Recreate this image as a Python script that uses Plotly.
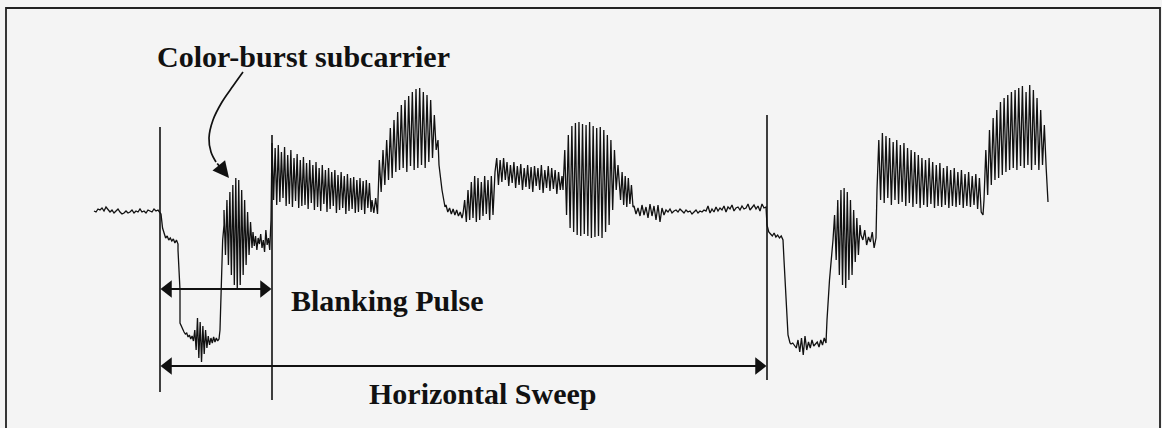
import numpy as np
import plotly.graph_objects as go

# ---- waveform data (screen-scaled units: x = time position, y = level, axis reversed) ----
seg_ranges = [
    (94, 160), (161, 178), (178, 180), (180, 219), (220, 224), (224, 252), (253, 271),
    (272, 371), (372, 438), (439, 445), (446, 462), (463, 493), (495, 562), (563, 618),
    (619, 633), (634, 766), (767, 783), (784, 790), (791, 826), (827, 832), (833, 860),
    (861, 876), (877, 983), (984, 1048),
]
seg_levels = [
    [211, 212, 209, 210, 208, 211, 207, 209, 212, 210, 213, 211, 209, 212, 214, 213, 211, 213,
     212, 210, 213, 211, 212, 209, 212, 211, 213, 210, 211, 212, 209, 211, 210, 212],
    [214, 228, 234, 238, 236, 240, 238, 241, 239, 243, 240, 244],
    [250, 290],
    [323, 326, 330, 332, 334, 333, 337, 335, 339, 336, 341, 330, 350, 318, 358, 322, 362, 326,
     354, 330, 348, 336, 345, 338, 343, 337, 342, 338, 341, 339],
    [330, 280, 240, 225],
    [210, 255, 200, 265, 192, 275, 185, 285, 178, 290, 180, 285, 190, 275, 200, 265, 212, 255,
     222, 248],
    [232, 246, 236, 250, 238, 244, 234, 248, 240, 252, 230, 245, 238, 250, 220],
    [143, 200, 148, 205, 145, 202, 152, 198, 147, 206, 155, 204, 150, 207, 158, 201, 154, 208,
     160, 206, 157, 205, 163, 209, 160, 203, 165, 210, 162, 207, 168, 211, 165, 204, 170, 212,
     168, 209, 172, 206, 170, 213, 175, 210, 172, 208, 176, 214, 174, 211, 178, 209, 177, 213,
     180, 212, 178, 210, 181, 214, 180, 208, 183, 212],
    [200, 213, 198, 214, 160, 192, 150, 185, 140, 180, 128, 178, 120, 172, 112, 170, 105, 168,
     100, 172, 96, 166, 92, 170, 89, 168, 88, 165, 92, 168, 95, 162, 100, 158, 115, 150, 140],
    [165, 190, 207],
    [205, 212, 208, 214, 209, 215, 210, 216, 212, 218],
    [214, 200, 222, 190, 220, 182, 218, 176, 222, 178, 220, 182, 216, 176, 214, 180, 220, 176,
     215],
    [172, 158, 185, 160, 182, 158, 180, 162, 186, 165, 183, 162, 188, 166, 185, 164, 190, 168,
     187, 165, 189, 167, 192, 166, 186, 168, 190, 165, 193, 170, 188, 166, 191, 168, 189, 170,
     194, 172, 190, 176],
    [190, 150, 215, 135, 228, 126, 232, 123, 235, 122, 236, 124, 234, 125, 236, 122, 238, 126,
     237, 128, 236, 127, 238, 130, 232, 135, 225, 140, 210, 150, 190, 165],
    [178, 200, 172, 205, 176, 207, 178, 204, 185, 207],
    [206, 214, 208, 216, 205, 215, 207, 218, 204, 216, 206, 220, 205, 222, 208, 215, 210, 212,
     209, 213, 211, 210, 212, 209, 211, 213, 210, 212, 211, 214, 212, 210, 213, 211, 212, 210,
     211, 206, 213, 209, 212, 207, 211, 208, 210, 206, 212, 207, 209, 205, 211, 208, 207, 210,
     206, 209, 208, 204, 210, 207, 205, 209, 206, 211, 204, 208, 207],
    [225, 232, 234, 236, 233, 237, 235, 238, 236, 240],
    [260, 300, 335, 343],
    [344, 343, 345, 348, 340, 352, 338, 355, 336, 350, 342, 348, 340, 346, 344, 342, 347, 340,
     345, 338, 343],
    [320, 280, 253],
    [240, 215, 260, 200, 275, 190, 285, 188, 288, 192, 280, 200, 275, 210, 262, 218, 255, 225],
    [235, 240, 230, 245, 237, 242, 232, 248, 238],
    [190, 140, 200, 133, 203, 136, 198, 138, 205, 142, 200, 140, 204, 145, 202, 143, 206, 148,
     203, 150, 207, 152, 204, 155, 208, 158, 205, 160, 207, 158, 204, 162, 208, 165, 206, 163,
     207, 168, 205, 166, 208, 170, 206, 168, 207, 172, 205, 170, 208, 174, 206, 172, 207, 176,
     205, 174, 209, 178, 212, 215],
    [200, 150, 195, 130, 185, 118, 180, 110, 178, 102, 175, 98, 172, 95, 170, 92, 168, 90, 170,
     88, 166, 86, 168, 92, 165, 85, 170, 90, 165, 98, 170, 110, 165, 125, 168, 202],
]

# marker lines (time positions) and their vertical extents
marker_x = [160, 272, 767]
marker_top = [127, 135, 115]
marker_bottom = [392, 400, 380]

# dimension arrows: (start, end, level)
blank_arrow = (160, 272, 289)
sweep_arrow = (160, 767, 366)

# curved pointer path
pointer_x = [243, 233, 222, 213, 209, 211, 216]
pointer_y = [72, 86, 102, 120, 138, 152, 162]

labels = ["Color-burst subcarrier", "Blanking Pulse", "Horizontal Sweep"]
label_x = [303, 387, 482]
label_y = [56, 300, 393]

# ---- build trace ----
xs, ys = [], []
for (x0, x1), lv in zip(seg_ranges, seg_levels):
    xs.extend(np.linspace(x0, x1, len(lv)).tolist())
    ys.extend(lv)

fig = go.Figure()
fig.add_trace(go.Scatter(x=xs, y=ys, mode="lines",
                         line=dict(color="#111111", width=1.3), hoverinfo="skip"))

# marker lines
for mx, t, b in zip(marker_x, marker_top, marker_bottom):
    fig.add_shape(type="line", x0=mx, x1=mx, y0=t, y1=b, line=dict(color="#111", width=1.6))

# dimension arrows
for (a, b, lvl) in [blank_arrow, sweep_arrow]:
    fig.add_shape(type="line", x0=a + 4, x1=b - 4, y0=lvl, y1=lvl, line=dict(color="#111", width=1.8))
    fig.add_trace(go.Scatter(x=[a + 8, b - 8], y=[lvl, lvl], mode="markers",
                             marker=dict(symbol=["triangle-left", "triangle-right"], size=15,
                                         color="#111", line=dict(width=0)),
                             hoverinfo="skip"))

# curved pointer
fig.add_trace(go.Scatter(x=pointer_x, y=pointer_y, mode="lines",
                         line=dict(color="#111", width=1.7, shape="spline"), hoverinfo="skip"))
fig.add_annotation(x=229, y=178, ax=pointer_x[-1], ay=pointer_y[-1], axref="x", ayref="y",
                   xref="x", yref="y", text="", showarrow=True, arrowhead=2,
                   arrowsize=1.8, arrowwidth=1.8, arrowcolor="#111")

# frame
fig.add_shape(type="rect", x0=6, x1=1160, y0=8, y1=460, line=dict(color="#222", width=1.8))

for t, lx, ly in zip(labels, label_x, label_y):
    fig.add_annotation(x=lx, y=ly, xref="x", yref="y", text=f"<b>{t}</b>", showarrow=False,
                       font=dict(family="Liberation Serif", size=30, color="#111"))

fig.update_layout(width=1162, height=428, margin=dict(l=0, r=0, t=0, b=0),
                  paper_bgcolor="#f4f4f4", plot_bgcolor="#f4f4f4", showlegend=False,
                  xaxis=dict(range=[0, 1162], visible=False, fixedrange=True),
                  yaxis=dict(range=[428, 0], visible=False, fixedrange=True))

fig.write_html("out.html", config={"displayModeBar": False},
               post_script="document.body.style.margin='0';document.body.style.overflow='hidden';")
